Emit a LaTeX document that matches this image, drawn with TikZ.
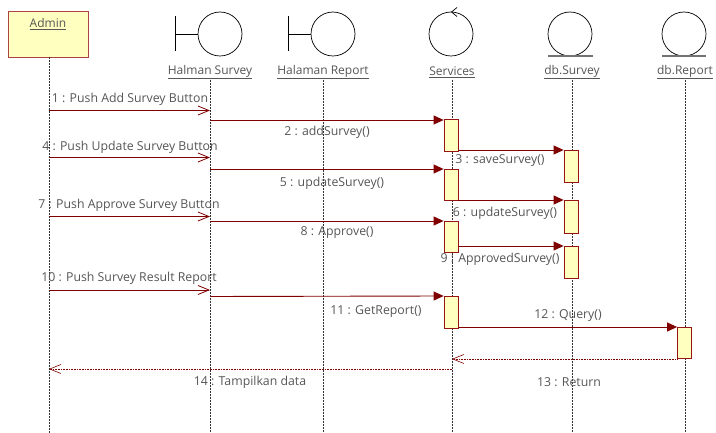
\documentclass[tikz,border=0pt]{standalone}
\usepackage{fontspec}
\setmainfont{Open Sans}
\usetikzlibrary{arrows.meta}
\definecolor{msg}{RGB}{128,0,0}
\definecolor{txt}{RGB}{85,85,85}
\definecolor{actfill}{RGB}{255,255,192}
\definecolor{actdraw}{RGB}{150,20,20}
\begin{document}
\begin{tikzpicture}[x=1pt,y=-1pt,
  lab/.style={font=\fontsize{12.3}{14}\selectfont, text=txt, inner sep=0pt},
  headlab/.style={font=\fontsize{12}{14}\selectfont, text=txt, inner sep=0pt},
  lifeline/.style={densely dotted, line width=0.5pt, black!80},
  actbox/.style={draw=actdraw, fill=actfill, line width=0.8pt, minimum width=14pt, inner sep=0pt, anchor=north},
  callmsg/.style={msg, line width=0.9pt, -{Triangle[length=10pt,width=9pt]}},
  usermsg/.style={msg, line width=0.9pt, -{Straight Barb[length=11pt,width=9pt,line width=0.8pt]}},
  retmsg/.style={msg, line width=0.6pt, densely dotted, -{Straight Barb[length=11pt,width=9pt,line width=0.6pt]}},
  icon/.style={line width=0.7pt, black}]
\useasboundingbox (0,0) rectangle (716,433);
% ---- heads ----
\node[draw=actdraw!80, fill=actfill, line width=1pt, minimum width=80pt, minimum height=46pt, anchor=north west, inner sep=0pt] (admin) at (8,11) {};
\node[headlab] (adminlab) at (48,24) {\underline{Admin}};
% boundary Halman Survey
\draw[icon] (175,16) -- (175,51);
\draw[icon] (175,34) -- (198,34);
\draw[icon] (220,34) circle (22);
\node[headlab] (hs) at (210,72) {\underline{Halman Survey}};
% boundary Halaman Report
\draw[icon] (288,16) -- (288,51);
\draw[icon] (288,34) -- (311,34);
\draw[icon] (333,34) circle (22);
\node[headlab] (hr) at (323,72) {\underline{Halaman Report}};
% control Services
\draw[icon] (451,34) circle (22);
\draw[icon] (457,7.5) -- (451.5,12) -- (457,16.5);
\node[headlab] (srv) at (452,72) {\underline{Services}};
% entity db.Survey
\draw[icon] (570,34) circle (22);
\draw[line width=1.2pt, black!55] (548,56) -- (593,56);
\node[headlab] (dbs) at (572,72) {\underline{db.Survey}};
% entity db.Report
\draw[icon] (684,34) circle (22);
\draw[line width=1.2pt, black!55] (662,56) -- (706,56);
\node[headlab] (dbr) at (685,72) {\underline{db.Report}};
% ---- lifelines ----
\coordinate (aEnd) at (49,433);
\coordinate (hsTop) at (210,80); \coordinate (hsEnd) at (210,433);
\coordinate (hrTop) at (323,80); \coordinate (hrEnd) at (323,433);
\coordinate (srTop) at (452,80); \coordinate (srEnd) at (452,433);
\coordinate (dsTop) at (572,80); \coordinate (dsEnd) at (572,433);
\coordinate (drTop) at (685,80); \coordinate (drEnd) at (685,433);
\draw[lifeline] (49,57) -- (aEnd);
\draw[lifeline] (hsTop) -- (hsEnd);
\draw[lifeline] (hrTop) -- (hrEnd);
\draw[lifeline] (srTop) -- (srEnd);
\draw[lifeline] (dsTop) -- (dsEnd);
\draw[lifeline] (drTop) -- (drEnd);
% ---- activations ----
\node[actbox, minimum height=32pt] (s1) at (451,119) {};
\node[actbox, minimum height=31pt] (s2) at (451,169) {};
\node[actbox, minimum height=31pt] (s3) at (451,221) {};
\node[actbox, minimum height=32pt] (s4) at (451,296) {};
\node[actbox, minimum height=32pt] (d1) at (571,150) {};
\node[actbox, minimum height=33pt] (d2) at (571,200) {};
\node[actbox, minimum height=32pt] (d3) at (571,246) {};
\node[actbox, minimum height=31pt] (r1) at (684.5,327) {};
% ---- message coordinates ----
\coordinate (m1a) at (49,110.5);  \coordinate (m1b) at (210,110.5);
\coordinate (m2a) at (210,120);
\coordinate (m4a) at (49,157.5);  \coordinate (m4b) at (210,157.5);
\coordinate (m5a) at (210,169);
\coordinate (m7a) at (49,216.5);  \coordinate (m7b) at (210,216.5);
\coordinate (m8a) at (210,221);
\coordinate (m10a) at (49,290);   \coordinate (m10b) at (210,290);
\coordinate (m11a) at (210,296.5);
\coordinate (m14a) at (452,369);  \coordinate (m14b) at (49,369);
% ---- messages ----
\draw[usermsg] (m1a) -- (m1b);
\node[lab] (l1) at (130,99) {1 : Push Add Survey Button};
\draw[callmsg] (m2a) -- (s1.north west |- m2a);
\node[lab] (l2) at (327,132) {2 : addSurvey()};
\draw[callmsg] (s1.east |- d1.north) -- (d1.north west);
\node[lab] (l3) at (500,161) {3 : saveSurvey()};
\draw[usermsg] (m4a) -- (m4b);
\node[lab] (l4) at (130,147) {4 : Push Update Survey Button};
\draw[callmsg] (m5a) -- (s2.north west);
\node[lab] (l5) at (332,183) {5 : updateSurvey()};
\draw[callmsg] (s2.east |- d2.north) -- (d2.north west);
\node[lab] (l6) at (505,213) {6 : updateSurvey()};
\draw[usermsg] (m7a) -- (m7b);
\node[lab] (l7) at (129,205) {7 : Push Approve Survey Button};
\draw[callmsg] (m8a) -- (s3.north west);
\node[lab] (l8) at (337,233) {8 : Approve()};
\draw[callmsg] (s3.east |- d3.north) -- (d3.north west);
\node[lab] (l9) at (500,259) {9 : ApprovedSurvey()};
\draw[usermsg] (m10a) -- (m10b);
\node[lab] (l10) at (129,278) {10 : Push Survey Result Report};
\draw[callmsg] (m11a) -- (s4.north west);
\node[lab] (l11) at (376,312) {11 : GetReport()};
\draw[callmsg] (s4.east |- r1.north) -- (r1.north west);
\node[lab] (l12) at (568,316) {12 : Query()};
\draw[retmsg] (r1.west |- 0,359) -- (srTop |- 0,359);
\node[lab] (l13) at (569,382) {13 : Return};
\draw[retmsg] (m14a) -- (m14b);
\node[lab] (l14) at (250,382) {14 : Tampilkan data};
\end{tikzpicture}
\end{document}
